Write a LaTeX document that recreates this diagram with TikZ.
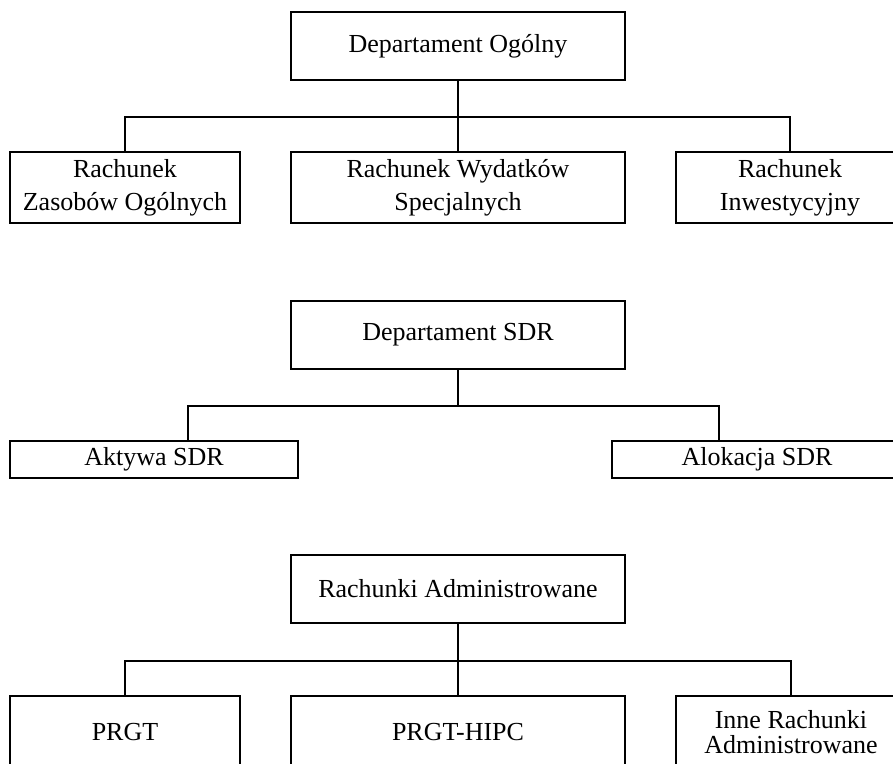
\documentclass[tikz,border=0pt]{standalone}
\usepackage{fontspec}
\setmainfont{Liberation Serif}
\usepackage{tikz}

\begin{document}
\begin{tikzpicture}[x=1pt, y=-1pt,
        dept/.style={draw, line width=1.8pt, minimum width=334pt, minimum height=68pt, inner sep=0pt, align=center, font=\fontsize{26}{33}\selectfont},
        account/.style={draw, line width=1.8pt, minimum height=71pt, inner sep=0pt, align=center, font=\fontsize{26}{33}\selectfont},
        link/.style={line width=1.6pt}
    ]
        \useasboundingbox (0,0) rectangle (893,763);

        % Departament Ogolny
        \node[dept] (ogolny) at (458,46) {Departament Ogólny};
        \node[account, minimum width=230pt] (zasoby) at (125,187.5) {Rachunek\\Zasobów Ogólnych};
        \node[account, minimum width=334pt] (wydatki) at (458,187.5) {Rachunek Wydatków\\Specjalnych};
        \node[account, minimum width=228pt] (inwest) at (790,187.5) {Rachunek\\Inwestycyjny};

        \draw[link] (ogolny.south) -- ++(0,36) -| (zasoby.north);
        \draw[link] (ogolny.south) -- (wydatki.north);
        \draw[link] (ogolny.south) -- ++(0,36) -| (inwest.north);

        % Departament SDR
        \node[dept] (sdr) at (458,335) {Departament SDR};
        \node[account, minimum width=288pt, minimum height=37pt] (aktywa) at (154,459.5) {Aktywa SDR};
        \node[account, minimum width=290pt, minimum height=37pt] (alokacja) at (757,459.5) {Alokacja SDR};
        \coordinate (aktywa in) at ([xshift=34pt]aktywa.north);
        \coordinate (alokacja in) at ([xshift=-38pt]alokacja.north);

        \draw[link] (sdr.south) -- ++(0,36) -| (aktywa in);
        \draw[link] (sdr.south) -- ++(0,36) -| (alokacja in);

        % Rachunki Administrowane
        \node[dept] (admin) at (458,589) {Rachunki Administrowane};
        \node[account, minimum width=230pt, minimum height=72pt] (prgt) at (125,732) {PRGT};
        \node[account, minimum width=334pt, minimum height=72pt] (hipc) at (458,732) {PRGT-HIPC};
        \node[account, minimum width=230pt, minimum height=72pt, font=\fontsize{26}{25}\selectfont] (inne) at (791,732) {Inne Rachunki\\Administrowane};

        \draw[link] (admin.south) -- ++(0,37) -| (prgt.north);
        \draw[link] (admin.south) -- (hipc.north);
        \draw[link] (admin.south) -- ++(0,37) -| (inne.north);
    \end{tikzpicture}
\end{document}
